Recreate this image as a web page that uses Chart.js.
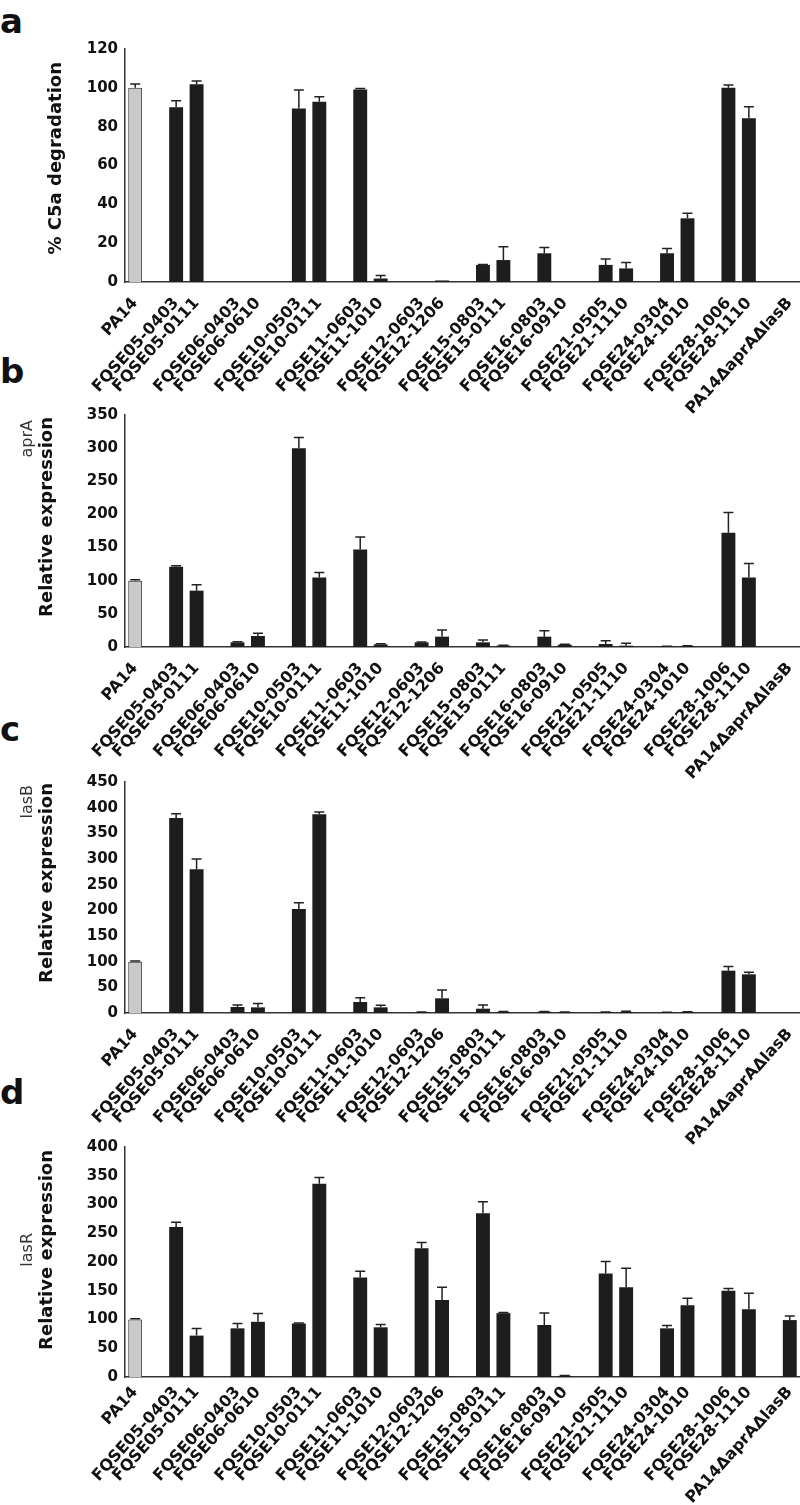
<!DOCTYPE html>
<html>
<head>
<meta charset="utf-8">
<script src="https://cdn.jsdelivr.net/npm/chart.js@4.4.1/dist/chart.umd.min.js"></script>
<style>
    html, body { margin: 0; padding: 0; background: #fff; overflow: hidden; }
    body { width: 800px; height: 1505px; position: relative; }
    .panel { position: absolute; left: 0; width: 800px; }
    .letter { position: absolute; left: 0; font: bold 34px "DejaVu Sans", sans-serif; line-height: 34px; color: #111; }
</style>
</head>
<body>
<div class="letter" style="top:4px">a</div>
<div class="letter" style="top:354px">b</div>
<div class="letter" style="top:712px">c</div>
<div class="letter" style="top:1075px">d</div>

<div class="panel" style="top:29px;height:403px"><canvas id="chart-a"></canvas></div>
<div class="panel" style="top:395px;height:402px"><canvas id="chart-b"></canvas></div>
<div class="panel" style="top:762px;height:401px"><canvas id="chart-c"></canvas></div>
<div class="panel" style="top:1127px;height:378px"><canvas id="chart-d"></canvas></div>

<script>
// strains, with empty slots between the isolate pairs
const categories = [
    "PA14", "",
    "FQSE05-0403", "FQSE05-0111", "",
    "FQSE06-0403", "FQSE06-0610", "",
    "FQSE10-0503", "FQSE10-0111", "",
    "FQSE11-0603", "FQSE11-1010", "",
    "FQSE12-0603", "FQSE12-1206", "",
    "FQSE15-0803", "FQSE15-0111", "",
    "FQSE16-0803", "FQSE16-0910", "",
    "FQSE21-0505", "FQSE21-1110", "",
    "FQSE24-0304", "FQSE24-1010", "",
    "FQSE28-1006", "FQSE28-1110", "",
    "PA14\u0394aprA\u0394lasB"
];

const c5aDegradation = [100, null, 90, 101.8, null, 0, 0, null, 89.4, 92.8, null, 99.2, 1.8, null, 0, 0.8, null, 8.8, 11.3, null, 14.8, 0, null, 8.8, 7, null, 14.8, 32.8, null, 100, 84.3, null, 0];
const c5aError = [2, null, 3.4, 1.7, null, 0, 0, null, 9.5, 2.6, null, 0.5, 1.5, null, 0, 0, null, 0.2, 6.9, null, 3, 0, null, 3, 3, null, 2.5, 2.6, null, 1.4, 6, null, 0];

const aprAExpression = [100, null, 121, 85, null, 7, 16.6, null, 300, 105, null, 147, 4, null, 7, 15.6, null, 7, 2, null, 15.6, 3.5, null, 4.5, 2, null, 1, 1.5, null, 172.5, 105, null, 0];
const aprAError = [1.5, null, 1.5, 9, null, 1, 4, null, 16, 7.5, null, 19, 1, null, 0.5, 10, null, 3.5, 0.5, null, 9, 0.5, null, 5, 3.5, null, 0.3, 0.5, null, 30.5, 21, null, 0];

const lasBExpression = [100, null, 380, 280, null, 11.7, 11, null, 202.6, 387, null, 21.4, 11, null, 1.5, 28.6, null, 8.4, 2, null, 2.5, 1.5, null, 1.5, 2, null, 1, 2, null, 82.5, 75.3, null, 0];
const lasBError = [1.5, null, 8, 20, null, 4, 7.5, null, 12, 4.5, null, 8.5, 4, null, 0.5, 16, null, 7, 1, null, 0.5, 0.5, null, 0.5, 1.5, null, 0.3, 0.5, null, 8, 4, null, 0];

const lasRExpression = [100, null, 261, 72, null, 84.6, 96, null, 93, 336, null, 173, 86.4, null, 223.8, 134, null, 284.6, 111, null, 90.4, 2, null, 180, 156, null, 84.6, 125, null, 150, 117.7, null, 99];
const lasRError = [1.5, null, 8, 12.5, null, 8.5, 14.5, null, 1, 11, null, 11, 5, null, 10, 22, null, 20, 1, null, 21, 0.5, null, 21, 33, null, 5, 12, null, 4, 28, null, 7];

const barFill = categories.map((c, i) => (i === 0 ? "#c9c9c9" : "#1d1d1d"));
const barEdge = categories.map((c, i) => (i === 0 ? "#222" : "#1d1d1d"));
const barEdgeWidth = categories.map((c, i) => (i === 0 ? 1 : 0));

const errorBars = {
    id: "errorBars",
    afterDatasetsDraw(chart) {
        const ctx = chart.ctx;
        const x = chart.scales.x;
        const y = chart.scales.y;
        const ds = chart.data.datasets[0];
        ctx.save();
        ctx.strokeStyle = "#222";
        ctx.lineWidth = 1.5;
        ds.errors.forEach((e, i) => {
            if (!e || ds.data[i] == null) return;
            const px = x.getPixelForValue(i);
            const y0 = y.getPixelForValue(ds.data[i]);
            const y1 = y.getPixelForValue(ds.data[i] + e);
            ctx.beginPath();
            ctx.moveTo(px, y0);
            ctx.lineTo(px, y1);
            ctx.moveTo(px - 5, y1);
            ctx.lineTo(px + 5, y1);
            ctx.stroke();
        });
        ctx.restore();
    }
};

// vertical axis titles, each placed by its top end
const axisTitles = {
    id: "axisTitles",
    afterDraw(chart, args, opts) {
        const ctx = chart.ctx;
        const top = chart.chartArea.top;
        for (let t of opts.items || []) {
            ctx.save();
            ctx.translate(t.x, top + t.top);
            ctx.rotate(-Math.PI / 2);
            ctx.font = t.font;
            ctx.fillStyle = t.color || "#111";
            ctx.textAlign = "right";
            ctx.textBaseline = "middle";
            ctx.fillText(t.text, 0, 0);
            ctx.restore();
        }
    }
};

const mainFont = 'bold 18px "DejaVu Sans", sans-serif';
const geneFont = '16px "DejaVu Sans", sans-serif';

function makeChart(canvasId, values, errors, yMax, yStep, axisHeight, labelGap, titleItems) {
    new Chart(document.getElementById(canvasId), {
        type: "bar",
        data: {
            labels: categories,
            datasets: [
                {
                    data: values,
                    errors: errors,
                    backgroundColor: barFill,
                    borderColor: barEdge,
                    borderWidth: barEdgeWidth,
                    categoryPercentage: 1,
                    barPercentage: 0.68,
                },
            ],
        },
        options: {
            responsive: true,
            maintainAspectRatio: false,
            animation: false,
            layout: { padding: { top: 20, left: 0, right: 0, bottom: 0 } },
            plugins: {
                legend: { display: false },
                tooltip: { enabled: false },
                axisTitles: { items: titleItems },
            },
            scales: {
                x: {
                    grid: { display: false, drawTicks: false },
                    border: { color: "#333", width: 1.5 },
                    ticks: {
                        autoSkip: false,
                        minRotation: 48,
                        maxRotation: 48,
                        padding: labelGap,
                        color: "#111",
                        font: { family: "DejaVu Sans", weight: "bold", size: 16 },
                    },
                    afterFit: (s) => {
                        s.height = axisHeight;
                        s.paddingLeft = 0;
                        s.paddingRight = 0;
                    },
                },
                y: {
                    min: 0,
                    max: yMax,
                    grid: { display: false, drawTicks: false },
                    border: { color: "#333", width: 1.5 },
                    ticks: {
                        stepSize: yStep,
                        padding: 7,
                        color: "#111",
                        font: { family: "DejaVu Sans", weight: "bold", size: 15 },
                    },
                    afterFit: (s) => { s.width = 125; },
                },
            },
        },
        plugins: [errorBars, axisTitles],
    });
}

makeChart("chart-a", c5aDegradation, c5aError, 120, 20, 150, 12, [
    { text: "% C5a degradation", font: mainFont, x: 56, top: 13 },
]);
makeChart("chart-b", aprAExpression, aprAError, 350, 50, 150, 12, [
    { text: "Relative expression", font: mainFont, x: 47, top: 2 },
    { text: "aprA", font: geneFont, x: 28, top: 5, color: "#333" },
]);
makeChart("chart-c", lasBExpression, lasBError, 450, 50, 150, 12, [
    { text: "Relative expression", font: mainFont, x: 47, top: 1 },
    { text: "lasB", font: geneFont, x: 28, top: 3, color: "#333" },
]);
makeChart("chart-d", lasRExpression, lasRError, 400, 50, 128, 6, [
    { text: "Relative expression", font: mainFont, x: 47, top: 3 },
    { text: "lasR", font: geneFont, x: 28, top: 86, color: "#333" },
]);
</script>
</body>
</html>
